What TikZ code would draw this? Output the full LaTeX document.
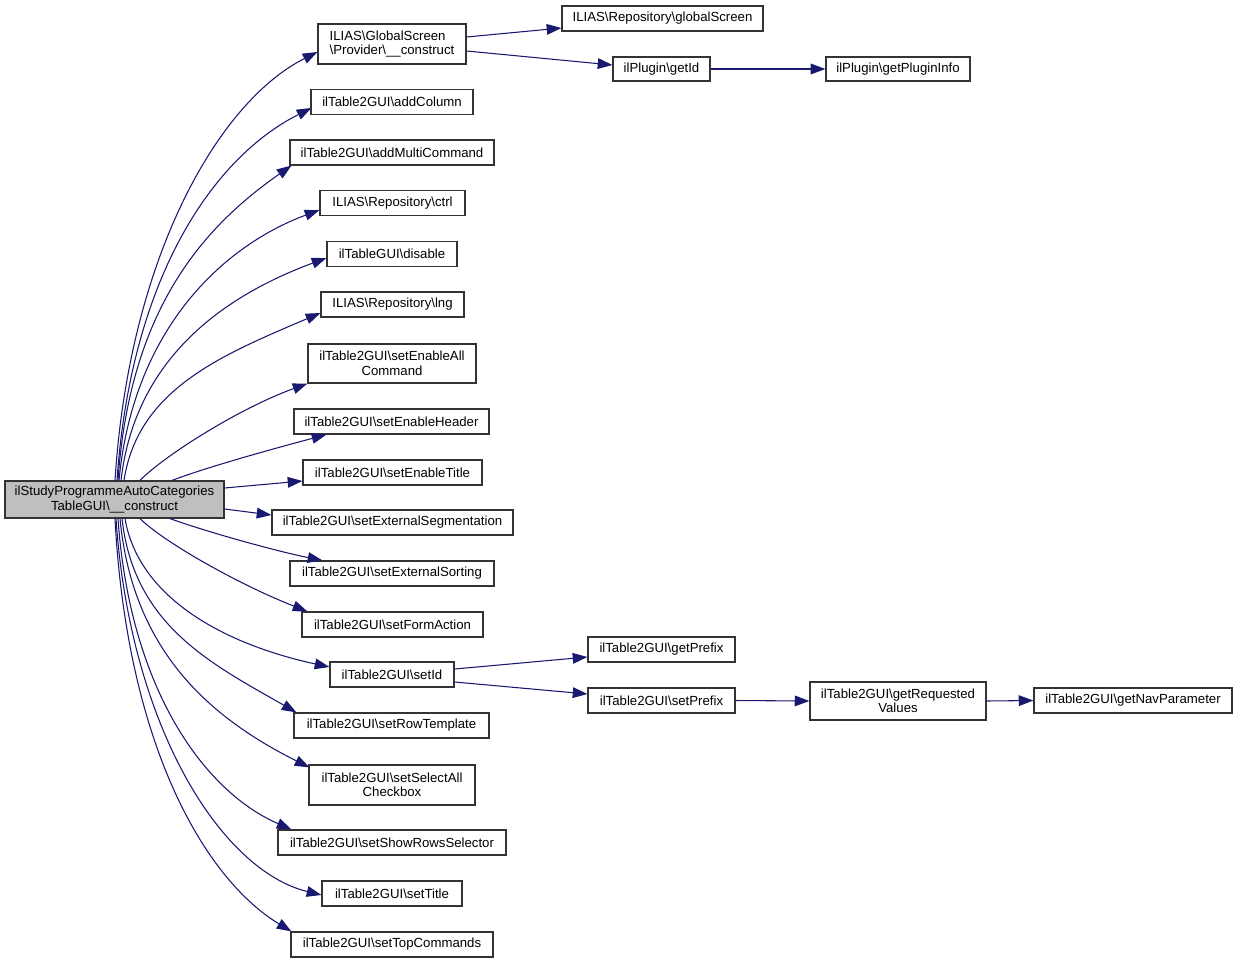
\documentclass[tikz,border=0pt]{standalone}
\usepackage{fontspec}
\setmainfont{Liberation Sans}
\usetikzlibrary{arrows.meta,calc}
\definecolor{edgeblue}{HTML}{191970}
\definecolor{boxline}{HTML}{333333}
\definecolor{mainfill}{HTML}{BFBFBF}
\newcommand{\bs}{\textbackslash{}}
\begin{document}
\begin{tikzpicture}[x=0.75pt,y=-0.75pt,
  box/.style={draw=boxline, line width=0.9pt, fill=white, inner sep=0pt,
    font=\fontsize{9.9pt}{10.9pt}\selectfont, align=center},
  bw/.style={minimum width=#1*0.75pt},
  bh/.style={minimum height=#1*0.75pt},
  edge/.style={draw=edgeblue, line width=0.8pt, -{Triangle[length=11pt,width=8pt]}}]
\useasboundingbox (0,0) rectangle (1237,964);

% main node
\node[box, fill=mainfill, bw=219, bh=37] (m) at (114.5,499.5) {ilStudyProgrammeAutoCategories\\TableGUI\bs\_\_construct};

% column nodes
\node[box, bw=148, bh=40, align=left] (n1) at (392,44) {ILIAS\bs GlobalScreen\\\bs Provider\bs\_\_construct};
\node[box, bw=162, bh=25] (n2) at (392,102) {ilTable2GUI\bs addColumn};
\node[box, bw=204, bh=25] (n3) at (392,152.5) {ilTable2GUI\bs addMultiCommand};
\node[box, bw=145, bh=25] (n4) at (392.5,203) {ILIAS\bs Repository\bs ctrl};
\node[box, bw=130, bh=25] (n5) at (392,254) {ilTableGUI\bs disable};
\node[box, bw=143, bh=25] (n6) at (392.5,304.5) {ILIAS\bs Repository\bs lng};
\node[box, bw=168, bh=39] (n7) at (392,363.5) {ilTable2GUI\bs setEnableAll\\Command};
\node[box, bw=195, bh=25] (n8) at (391.5,421.5) {ilTable2GUI\bs setEnableHeader};
\node[box, bw=179, bh=25] (n9) at (392.5,472.5) {ilTable2GUI\bs setEnableTitle};
\node[box, bw=241, bh=25] (n10) at (392.5,522.5) {ilTable2GUI\bs setExternalSegmentation};
\node[box, bw=204, bh=25] (n11) at (392,573.5) {ilTable2GUI\bs setExternalSorting};
\node[box, bw=181, bh=25] (n12) at (392.5,624.5) {ilTable2GUI\bs setFormAction};
\node[box, bw=124, bh=25] (n13) at (392,674.5) {ilTable2GUI\bs setId};
\node[box, bw=195, bh=25] (n14) at (391.5,725.5) {ilTable2GUI\bs setRowTemplate};
\node[box, bw=166, bh=40] (n15) at (392,785) {ilTable2GUI\bs setSelectAll\\Checkbox};
\node[box, bw=228, bh=25] (n16) at (392,842.5) {ilTable2GUI\bs setShowRowsSelector};
\node[box, bw=140, bh=25] (n17) at (392,893.5) {ilTable2GUI\bs setTitle};
\node[box, bw=202, bh=25] (n18) at (392,944.5) {ilTable2GUI\bs setTopCommands};

% right nodes
\node[box, bw=201, bh=25] (r1) at (662.5,18.5) {ILIAS\bs Repository\bs globalScreen};
\node[box, bw=97, bh=24] (r2) at (661.5,69) {ilPlugin\bs getId};
\node[box, bw=144, bh=24] (r3) at (898,69) {ilPlugin\bs getPluginInfo};
\node[box, bw=147, bh=25] (r4) at (661.5,649.5) {ilTable2GUI\bs getPrefix};
\node[box, bw=147, bh=25] (r5) at (661.5,700.5) {ilTable2GUI\bs setPrefix};
\node[box, bw=176, bh=38] (r6) at (898,701) {ilTable2GUI\bs getRequested\\Values};
\node[box, bw=198, bh=25] (r7) at (1133,700.5) {ilTable2GUI\bs getNavParameter};

% upper edges
\draw[edge] ($(m.north)+(0.5,0)$) .. controls (129,258) and (218,102) .. ($(n1.west)+(0,8)$);
\draw[edge] ($(m.north)+(2.5,0)$) .. controls (131,276) and (214,157) .. ($(n2.west)+(1,6)$);
\draw[edge] ($(m.north)+(3.5,0)$) .. controls (130,307) and (205,226) .. ($(n3.south west)+(2,0)$);
\draw[edge] ($(m.north)+(4.5,0)$) .. controls (133,332) and (220,247) .. ($(n4.west)+(0,7)$);
\draw[edge] ($(m.north)+(6.5,0)$) .. controls (135,358) and (224,296) .. ($(n5.west)+(0,4)$);
\draw[edge] ($(m.north)+(9.5,0)$) .. controls (138,389) and (222,355) .. ($(n6.west)+(0,8.5)$);
\draw[edge] ($(m.north)+(25.5,0)$) .. controls (165,455) and (240,408) .. (n7.south west);
\draw[edge] ($(m.north)+(57.5,0)$) .. controls (210,466) and (280,447) .. ($(n8.south west)+(33,0)$);
\draw[edge] ($(m.east)+(0,-11.5)$) -- ($(n9.west)+(0,8.5)$);
\draw[edge] ($(m.east)+(0,9.5)$) -- ($(n10.west)+(0,-7.5)$);

% lower edges
\draw[edge] ($(m.south)+(55.5,0)$) .. controls (210,533) and (280,552) .. ($(n11.north west)+(33,0)$);
\draw[edge] ($(m.south)+(25.5,0)$) .. controls (165,543) and (240,585) .. ($(n12.north west)+(6,0)$);
\draw[edge] ($(m.south)+(10.5,0)$) .. controls (139,600) and (228,645) .. ($(n13.west)+(0,-7.5)$);
\draw[edge] ($(m.south)+(7.5,0)$) .. controls (134,625) and (210,663) .. ($(n14.north west)+(3,0)$);
\draw[edge] ($(m.south)+(5.5,0)$) .. controls (133,655) and (215,720) .. ($(n15.north west)+(1,3)$);
\draw[edge] ($(m.south)+(3.5,0)$) .. controls (130,690) and (205,792) .. ($(n16.north west)+(14,0)$);
\draw[edge] ($(m.south)+(1.5,0)$) .. controls (130,725) and (220,870) .. ($(n17.west)+(0,1.5)$);
\draw[edge] ($(m.south)+(0.5,0)$) .. controls (127,746) and (205,879) .. ($(n18.north west)+(1,0)$);

% right edges
\draw[edge] ($(n1.east)+(0,-7)$) -- ($(r1.west)+(0,9.5)$);
\draw[edge] ($(n1.east)+(0,7)$) -- ($(r2.west)+(0,-4)$);
\draw[edge] (r2.east) -- (r3.west);
\draw[edge] ($(n13.east)+(0,-5.5)$) -- ($(r4.west)+(0,7.5)$);
\draw[edge] ($(n13.east)+(0,7.5)$) -- ($(r5.west)+(0,-6.5)$);
\draw[edge] (r5.east) -- (r6.west);
\draw[edge] (r6.east) -- (r7.west);
\end{tikzpicture}
\end{document}
